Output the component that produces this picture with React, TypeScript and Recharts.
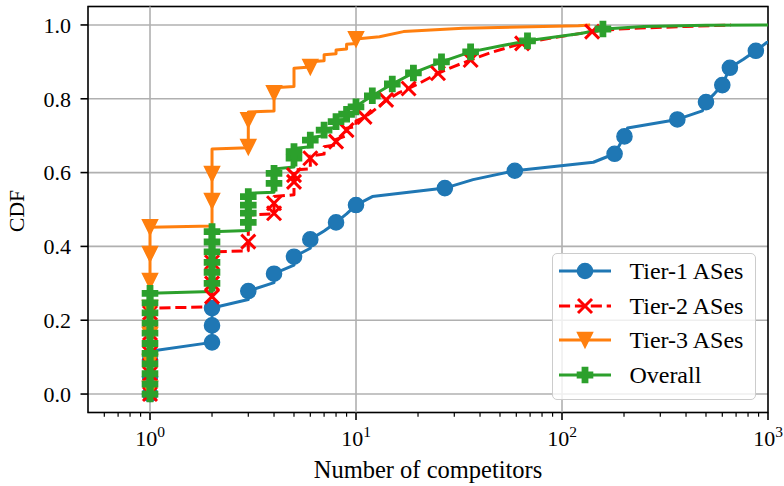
import React from 'react';
import { LineChart, Line, XAxis, YAxis, CartesianGrid, ReferenceLine, ReferenceArea } from 'recharts';

type Pt = [number, number];

// Number of competitors vs. CDF — curve vertices and marked samples per group.
const tier1Curve: Pt[] = [
  [1, 0], [1, 0.116], [2, 0.14], [2, 0.233], [3, 0.256], [3, 0.279], [4, 0.302], [4, 0.326],
  [5, 0.349], [5, 0.372], [6, 0.395], [6, 0.419], [7, 0.442], [8, 0.465], [9, 0.488], [10, 0.512],
  [12, 0.535], [27, 0.558], [37, 0.581], [59, 0.605], [142, 0.628], [180, 0.651], [190, 0.674],
  [201, 0.698], [208, 0.721], [363, 0.744], [480, 0.767], [500, 0.791], [550, 0.814], [600, 0.837],
  [625, 0.86], [653, 0.884], [760, 0.907], [873, 0.93], [990, 0.953], [1300, 0.977],
];
const tier1Marks: Pt[] = [
  [1, 0], [1, 0.047], [1, 0.093], [2, 0.14], [2, 0.186], [2, 0.233], [3, 0.279], [4, 0.326],
  [5, 0.372], [6, 0.419], [8, 0.465], [10, 0.512], [27, 0.558], [59, 0.605], [180, 0.651],
  [201, 0.698], [363, 0.744], [500, 0.791], [600, 0.837], [653, 0.884], [873, 0.93],
];

const tier2Curve: Pt[] = [
  [1, 0], [1, 0.233], [2, 0.236], [2, 0.385], [3, 0.388], [3, 0.485], [4, 0.488], [4, 0.535],
  [5, 0.54], [5, 0.607], [6, 0.61], [6, 0.645], [7, 0.65], [7, 0.67], [8, 0.675], [8, 0.69],
  [9, 0.7], [9, 0.72], [10, 0.725], [10, 0.74], [11, 0.75], [12, 0.765], [14, 0.795], [16, 0.815],
  [18, 0.828], [20, 0.84], [25, 0.869], [30, 0.888], [36, 0.905], [45, 0.925], [64, 0.95],
  [90, 0.965], [140, 0.982], [200, 0.99], [400, 0.996], [660, 1.0],
];
const tier2Marks: Pt[] = [
  [1, 0], [1, 0.055], [1, 0.11], [1, 0.165], [1, 0.22],
  [2, 0.264], [2, 0.3], [2, 0.357], [3, 0.413],
  [4, 0.49], [4, 0.517], [5, 0.575], [5, 0.593], [6, 0.639], [8, 0.684], [9, 0.715], [11, 0.751],
  [14, 0.797], [18, 0.828], [25, 0.869], [36, 0.905], [64, 0.95], [140, 0.982],
];

const tier3Curve: Pt[] = [
  [1, 0], [1, 0.452], [2, 0.455], [2, 0.664], [3, 0.667], [3, 0.764], [4, 0.767], [4, 0.83],
  [5, 0.833], [5, 0.883], [6, 0.886], [6, 0.9], [7, 0.903], [7, 0.919], [8, 0.922], [8, 0.932],
  [9, 0.935], [9, 0.948], [10, 0.95], [10, 0.962], [13, 0.968], [17, 0.982], [33, 0.991],
  [120, 0.998], [137, 1.0],
];
const tier3Marks: Pt[] = [
  [1, 0.014], [1, 0.087], [1, 0.16], [1, 0.233], [1, 0.306], [1, 0.379], [1, 0.452],
  [2, 0.523], [2, 0.596], [3, 0.669], [3, 0.742], [4, 0.815], [6, 0.886], [10, 0.961],
];

const overallCurve: Pt[] = [
  [1, 0], [1, 0.273], [2, 0.278], [2, 0.44], [3, 0.443], [3, 0.544], [4, 0.547], [4, 0.61],
  [5, 0.615], [5, 0.665], [6, 0.67], [6, 0.695], [7, 0.7], [7, 0.718], [8, 0.722], [8, 0.74],
  [9, 0.745], [9, 0.76], [10, 0.765], [10, 0.78], [12, 0.808], [15, 0.84], [19, 0.87], [26, 0.9],
  [36, 0.927], [50, 0.943], [68, 0.957], [123, 0.977], [160, 0.989], [250, 0.996], [500, 0.999],
  [1000, 1.0],
];
const overallMarks: Pt[] = [
  [1, 0], [1, 0.027], [1, 0.055], [1, 0.082], [1, 0.11], [1, 0.137], [1, 0.165], [1, 0.192],
  [1, 0.22], [1, 0.247], [1, 0.273], [2, 0.3], [2, 0.33], [2, 0.357], [2, 0.385], [2, 0.412],
  [2, 0.44], [3, 0.465], [3, 0.49], [3, 0.512], [3, 0.535], [4, 0.571], [4, 0.598], [5, 0.639],
  [5, 0.657], [6, 0.688], [7, 0.715], [8, 0.738], [9, 0.758], [10, 0.778], [12, 0.808],
  [15, 0.84], [19, 0.87], [26, 0.9], [36, 0.927], [68, 0.957], [158, 0.989],
];

const xMajorTicks = [1, 10, 100, 1000];
const xMajorExponents = ['0', '1', '2', '3'];
const xMinorTicks = [
  0.6, 0.7, 0.8, 0.9, 2, 3, 4, 5, 6, 7, 8, 9, 20, 30, 40, 50, 60, 70, 80, 90,
  200, 300, 400, 500, 600, 700, 800, 900,
];
const yTicks = [0, 0.2, 0.4, 0.6, 0.8, 1.0];

const FONT = "'Liberation Serif', 'Times New Roman', serif";
const GRID = '#b0b0b0';

type MarkProps = { cx?: number; cy?: number; index?: number };

const circleMark = (color: string) => (p: MarkProps) =>
  p.cx == null || p.cy == null ? <g key={p.index} /> :
    <circle key={p.index} cx={p.cx} cy={p.cy} r={7.6} fill={color} stroke={color} strokeWidth={1.4} />;

const crossMark = (color: string) => (p: MarkProps) =>
  p.cx == null || p.cy == null ? <g key={p.index} /> : (
    <g key={p.index} stroke={color} strokeWidth={3}>
      <line x1={p.cx - 7} y1={p.cy - 7} x2={p.cx + 7} y2={p.cy + 7} />
      <line x1={p.cx - 7} y1={p.cy + 7} x2={p.cx + 7} y2={p.cy - 7} />
    </g>
  );

const triangleDownMark = (color: string) => (p: MarkProps) => {
  if (p.cx == null || p.cy == null) return <g key={p.index} />;
  const { cx, cy } = p;
  const h = 7.6;
  return (
    <polygon key={p.index} points={`${cx - h},${cy - h} ${cx + h},${cy - h} ${cx},${cy + h}`}
      fill={color} stroke={color} strokeWidth={1.4} strokeLinejoin="miter" />
  );
};

const plusFilledMark = (color: string) => (p: MarkProps) => {
  if (p.cx == null || p.cy == null) return <g key={p.index} />;
  const { cx, cy } = p;
  const e = 7.6;
  const w = 2.7;
  const pts: Pt[] = [
    [-w, -e], [w, -e], [w, -w], [e, -w], [e, w], [w, w], [w, e], [-w, e], [-w, w], [-e, w], [-e, -w], [-w, -w],
  ];
  return (
    <polygon key={p.index} points={pts.map(([a, b]) => `${cx + a},${cy + b}`).join(' ')}
      fill={color} stroke={color} strokeWidth={1.4} />
  );
};

type Series = {
  name: string;
  curve: Pt[];
  marks: Pt[];
  color: string;
  dash?: string;
  marker: (p: MarkProps) => React.ReactElement;
};

const series: Series[] = [
  { name: 'Tier-1 ASes', curve: tier1Curve, marks: tier1Marks, color: '#1f77b4', marker: circleMark('#1f77b4') },
  { name: 'Tier-2 ASes', curve: tier2Curve, marks: tier2Marks, color: '#ff0000', dash: '11.1 4.8', marker: crossMark('#ff0000') },
  { name: 'Tier-3 ASes', curve: tier3Curve, marks: tier3Marks, color: '#ff7f0e', marker: triangleDownMark('#ff7f0e') },
  { name: 'Overall', curve: overallCurve, marks: overallMarks, color: '#2ca02c', marker: plusFilledMark('#2ca02c') },
];

const rows = (pts: Pt[]) => pts.map(([x, y]) => ({ x, y }));

const allXTicks = [...xMajorTicks, ...xMinorTicks].sort((a, b) => a - b);

const XTick = (props: any) => {
  const { x, y, payload } = props;
  const v = payload.value as number;
  const majorIndex = xMajorTicks.indexOf(v);
  const major = majorIndex >= 0;
  return (
    <g>
      <line x1={x} x2={x} y1={y} y2={y + (major ? 7.5 : 4.2)} stroke="#000" strokeWidth={major ? 1.6 : 1.2} />
      {major && (
        <text x={x} y={y + 33.5} textAnchor="middle" fontFamily={FONT} fontSize={22} fill="#000">
          10
          <tspan dy={-9.5} fontSize={15.5}>{xMajorExponents[majorIndex]}</tspan>
        </text>
      )}
    </g>
  );
};

const XTitle = (props: any) => {
  const vb = props.viewBox;
  return (
    <text x={vb.x + vb.width / 2} y={vb.y + 65.8} textAnchor="middle" fontFamily={FONT} fontSize={24.5} fill="#000">
      Number of competitors
    </text>
  );
};

const YTitle = (props: any) => {
  const vb = props.viewBox;
  const cx = 23.5;
  const cy = vb.y + vb.height / 2 + 1.5;
  return (
    <text x={cx} y={cy} transform={`rotate(-90 ${cx} ${cy})`} textAnchor="middle" fontFamily={FONT} fontSize={21.5} fill="#000">
      CDF
    </text>
  );
};

const LegendBox = () => (
  <div
    style={{
      position: 'absolute', left: 552, top: 253, width: 204, height: 147, boxSizing: 'border-box',
      border: '1.6px solid #cccccc', borderRadius: 5, background: 'rgba(255,255,255,0.8)', fontFamily: FONT,
    }}
  >
    {series.map((s, i) => {
      const center = 17.1 + i * 34.6;
      return (
        <div key={s.name} style={{ position: 'absolute', left: 0, top: center - 15, width: '100%', height: 30 }}>
          <svg width={60} height={30} style={{ position: 'absolute', left: 2.4, top: 0, overflow: 'visible' }}>
            <line x1={4} x2={56} y1={15} y2={15} stroke={s.color} strokeWidth={3} strokeDasharray={s.dash} />
            {s.marker({ cx: 30, cy: 15, index: 0 })}
          </svg>
          <span style={{ position: 'absolute', left: 76.4, top: 0, fontSize: 24, lineHeight: '30px', color: '#000', whiteSpace: 'nowrap' }}>
            {s.name}
          </span>
        </div>
      );
    })}
  </div>
);

export default function App() {
  return (
    <div style={{ position: 'absolute', left: 0, top: 0, width: 784, height: 486, background: '#fff' }}>
      <LineChart width={784} height={486} margin={{ top: 6.5, right: 16, bottom: 0, left: 0 }}>
        <CartesianGrid horizontal vertical={false} stroke={GRID} strokeWidth={1.6} />
        {xMajorTicks.slice(0, 3).map((v) => (
          <ReferenceLine key={`g${v}`} x={v} stroke={GRID} strokeWidth={1.6} />
        ))}
        <XAxis
          dataKey="x"
          type="number"
          scale="log"
          domain={[0.5, 1000]}
          allowDataOverflow
          ticks={allXTicks}
          interval={0}
          tick={(p: any) => <XTick {...p} />}
          tickLine={false}
          axisLine={false}
          tickSize={0}
          tickMargin={0}
          height={73.5}
          label={{ content: (p: any) => <XTitle {...p} /> }}
        />
        <YAxis
          type="number"
          domain={[-0.05, 1.05]}
          allowDataOverflow
          ticks={yTicks}
          interval={0}
          tickFormatter={(v: number) => v.toFixed(1)}
          tick={{ fontSize: 22, fill: '#000', fontFamily: FONT }}
          tickLine={{ stroke: '#000', strokeWidth: 1.6 }}
          tickSize={7.5}
          tickMargin={9.5}
          axisLine={false}
          width={88}
          label={{ content: (p: any) => <YTitle {...p} /> }}
        />
        {series.flatMap((s) => [
          <Line
            key={`${s.name}-curve`}
            data={rows(s.curve)}
            dataKey="y"
            type="linear"
            stroke={s.color}
            strokeWidth={3}
            strokeDasharray={s.dash}
            strokeLinejoin="round"
            dot={false}
            activeDot={false}
            isAnimationActive={false}
          />,
          <Line
            key={`${s.name}-marks`}
            data={rows(s.marks)}
            dataKey="y"
            stroke="none"
            dot={s.marker}
            activeDot={false}
            isAnimationActive={false}
          />,
        ])}
        <ReferenceArea x1={0.5} x2={1000} y1={-0.05} y2={1.05} fill="none" stroke="#000" strokeWidth={1.6} ifOverflow="visible" />
      </LineChart>
      <LegendBox />
    </div>
  );
}
